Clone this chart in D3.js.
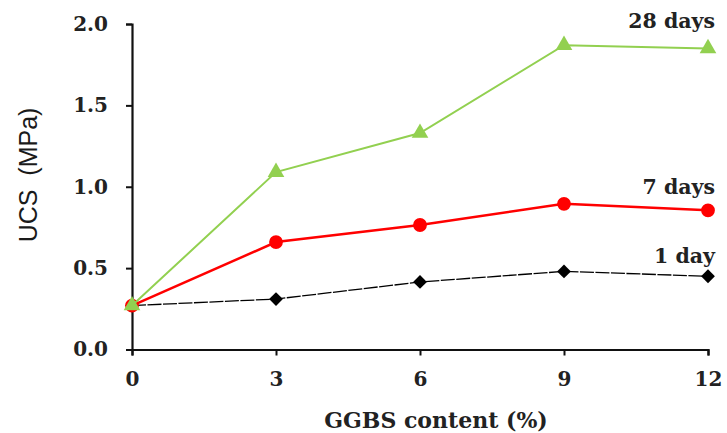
<!DOCTYPE html>
<html>
<head>
<meta charset="utf-8">
<script src="https://cdn.jsdelivr.net/npm/d3@7"></script>
<style>
  body { margin: 0; background: #fff; }
  .tick text { font-family: "DejaVu Serif", serif; font-weight: bold; font-size: 20px; fill: #222; }
</style>
</head>
<body>
<div id="chart"></div>
<script>
// data
const ggbs = [0, 3, 6, 9, 12];
const day1 = [0.27, 0.31, 0.415, 0.48, 0.45];
const day7 = [0.27, 0.66, 0.765, 0.895, 0.855];
const day28 = [0.27, 1.09, 1.33, 1.87, 1.85];
const xTicks = [0, 3, 6, 9, 12];
const yTicks = [0, 0.5, 1.0, 1.5, 2.0];

const width = 727, height = 433;
const svg = d3.select("#chart").append("svg")
  .attr("width", width)
  .attr("height", height);

const x = d3.scaleLinear().domain([0, 12]).range([132, 708]);
const y = d3.scaleLinear().domain([0, 2]).range([349.5, 24]);

// axes
const xAxis = svg.append("g")
  .attr("transform", "translate(0," + y(0) + ")")
  .call(d3.axisBottom(x).tickValues(xTicks).tickFormat(d3.format("d")).tickSize(6).tickPadding(16));
const yAxis = svg.append("g")
  .attr("transform", "translate(" + x(0) + ",0)")
  .call(d3.axisLeft(y).tickValues(yTicks).tickFormat(d3.format(".1f")).tickSize(6).tickPadding(18));

[xAxis, yAxis].forEach(function (g) {
  g.select(".domain").attr("stroke", "#111").attr("stroke-width", 2.2);
  g.selectAll(".tick line").attr("stroke", "#111").attr("stroke-width", 2);
});

// axis titles
svg.append("text")
  .attr("x", 436).attr("y", 428)
  .attr("text-anchor", "middle")
  .style("font-family", "DejaVu Serif, serif")
  .style("font-weight", "bold")
  .style("font-size", "22px")
  .attr("fill", "#222")
  .text("GGBS content (%)");

svg.append("text")
  .attr("transform", "translate(37,175) rotate(-90)")
  .attr("text-anchor", "middle")
  .style("font-family", "Liberation Sans, sans-serif")
  .style("font-size", "25px")
  .attr("fill", "#1a1a1a")
  .text("UCS\u00a0\u00a0(MPa)");

const line = d3.line()
  .x(function (d) { return x(d[0]); })
  .y(function (d) { return y(d[1]); });

function pairs(vals) { return ggbs.map(function (g, i) { return [g, vals[i]]; }); }

const series = [
  { vals: day1, color: "#000", width: 1.3, dash: "14,1.5", symbol: d3.symbolSquare, size: 95, rot: 45, label: "1 day", ly: 263 },
  { vals: day7, color: "#ff0000", width: 2.5, dash: null, symbol: d3.symbolCircle, size: 150, rot: 0, label: "7 days", ly: 194 },
  { vals: day28, color: "#92d050", width: 2, dash: null, symbol: d3.symbolTriangle, size: 120, rot: 0, label: "28 days", ly: 28 }
];

series.forEach(function (s) {
  svg.append("path")
    .datum(pairs(s.vals))
    .attr("fill", "none")
    .attr("stroke", s.color)
    .attr("stroke-width", s.width)
    .attr("stroke-dasharray", s.dash)
    .attr("d", line);

  svg.selectAll(null)
    .data(pairs(s.vals))
    .enter().append("path")
    .attr("transform", function (d) { return "translate(" + x(d[0]) + "," + y(d[1]) + ") rotate(" + s.rot + ")"; })
    .attr("d", d3.symbol().type(s.symbol).size(s.size))
    .attr("fill", s.color);

  svg.append("text")
    .attr("x", 715).attr("y", s.ly)
    .attr("text-anchor", "end")
    .style("font-family", "DejaVu Serif, serif")
    .style("font-weight", "bold")
    .style("font-size", "20.5px")
    .attr("fill", "#222")
    .text(s.label);
});
</script>
</body>
</html>
